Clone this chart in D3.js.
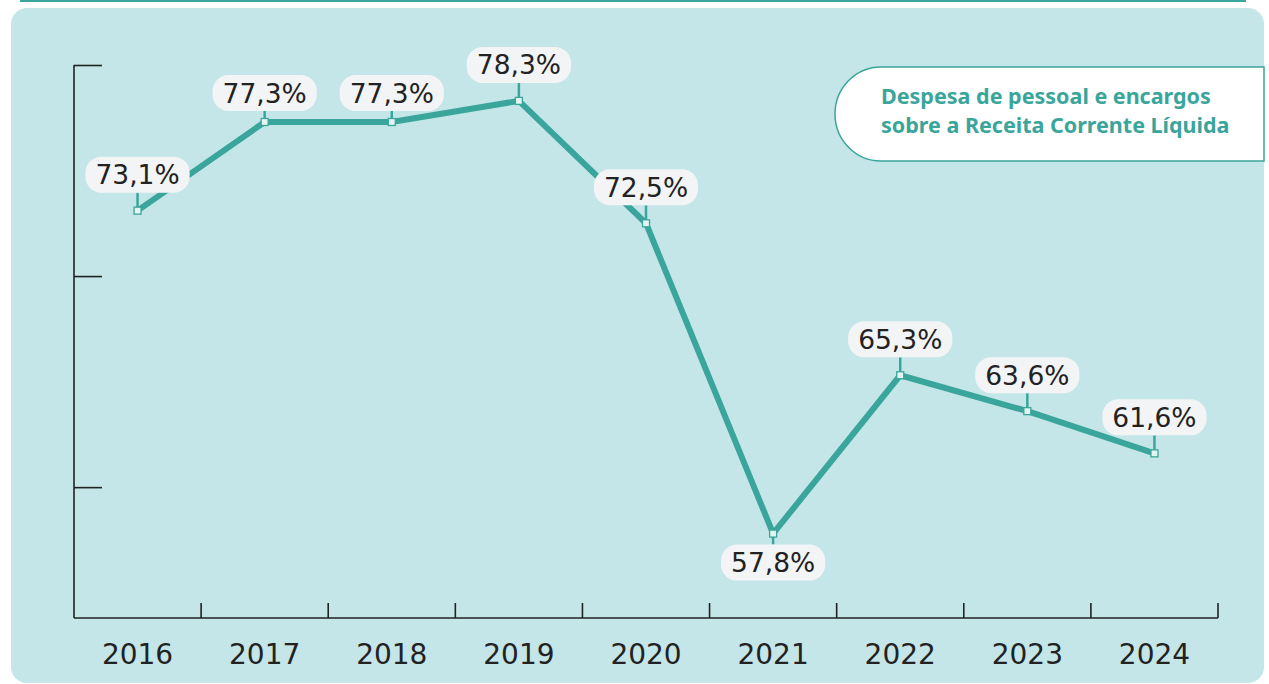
<!DOCTYPE html>
<html><head><meta charset="utf-8">
<script src="https://cdn.jsdelivr.net/npm/d3@7/dist/d3.min.js"></script>
<style>html,body{margin:0;padding:0;background:#fff;}svg{display:block;}</style>
</head><body>
<svg id="c" width="1269" height="684"></svg>
<script>
const years = ["2016","2017","2018","2019","2020","2021","2022","2023","2024"];
const values = [73.1, 77.3, 77.3, 78.3, 72.5, 57.8, 65.3, 63.6, 61.6];
const valueLabels = ["73,1%","77,3%","77,3%","78,3%","72,5%","57,8%","65,3%","63,6%","61,6%"];
const yTicks = [80, 70, 60];
const legendLines = ["Despesa de pessoal e encargos", "sobre a Receita Corrente Líquida"];

const teal = "#3aa69b", dark = "#222", bg = "#c4e6e8", pill = "#f3f4f6";
const font = "'DejaVu Sans', sans-serif";
const svg = d3.select("#c");

// top teal line (edge of previous panel)
svg.append("rect").attr("x",20).attr("y",0).attr("width",1226).attr("height",2).attr("fill",teal);
// panel
svg.append("rect").attr("x",11).attr("y",8).attr("width",1253).attr("height",675).attr("rx",16).attr("fill",bg);

const m = {left:74, right:1218, top:65, bottom:618};
const x = d3.scaleBand().domain(years).range([m.left, m.right]).padding(0);
const y = d3.scaleLinear().domain([53.8, 80]).range([m.bottom, m.top]);

// y axis
const ya = svg.append("g").attr("transform",`translate(${m.left},0)`)
  .call(d3.axisLeft(y).tickValues(yTicks).tickSize(-28).tickFormat(""));
ya.select(".domain").attr("stroke",dark).attr("stroke-width",1.6).attr("d",`M0,${m.top}V${m.bottom}`);
ya.selectAll(".tick line").attr("stroke",dark).attr("stroke-width",1.6);

// x axis
const xa = svg.append("g").attr("transform",`translate(0,${m.bottom})`)
  .call(d3.axisBottom(x).tickSize(0).tickPadding(26));
xa.select(".domain").attr("stroke",dark).attr("stroke-width",1.6).attr("d",`M${m.left},0H${m.right}`);
xa.selectAll(".tick text").attr("font-family",font).attr("font-size",28).attr("fill",dark);
xa.selectAll(".xt").data(years).enter().append("line").attr("class","xt")
  .attr("x1",d=>x(d)+x.bandwidth()).attr("x2",d=>x(d)+x.bandwidth())
  .attr("y1",-15).attr("y2",0).attr("stroke",dark).attr("stroke-width",1.6);

const pts = years.map((yr,i)=>({yr, v:values[i], lab:valueLabels[i], cx:x(yr)+x.bandwidth()/2, cy:y(values[i])}));

// line
svg.append("path").datum(pts)
  .attr("d", d3.line().x(d=>d.cx).y(d=>d.cy))
  .attr("fill","none").attr("stroke",teal).attr("stroke-width",6).attr("stroke-linejoin","miter");

// labels
const below = i => values[i] === d3.min(values);
const tight = i => i === 1 || i === 2;
const pillH = 36;
const lg = svg.append("g");
pts.forEach((p,i)=>{
  const gap = below(i) ? 11 : (tight(i) ? 11 : 18);
  const top = below(i) ? p.cy + gap : p.cy - gap - pillH;
  const cy = top + pillH/2;
  lg.append("line").attr("x1",p.cx).attr("x2",p.cx)
    .attr("y1", below(i) ? p.cy : top + pillH).attr("y2", below(i) ? top : p.cy)
    .attr("stroke",teal).attr("stroke-width",2.5);
  const g = lg.append("g");
  const t = g.append("text").attr("x",p.cx).attr("y",cy).attr("dy","0.36em")
    .attr("text-anchor","middle").attr("font-family",font).attr("font-size",26.5).attr("fill",dark).text(p.lab);
  const w = t.node().getComputedTextLength() + 20;
  g.insert("rect","text").attr("x",p.cx - w/2).attr("y",top).attr("width",w).attr("height",pillH)
    .attr("rx",16).attr("fill",pill);
});
// markers
svg.selectAll(".mk").data(pts).enter().append("rect").attr("class","mk")
  .attr("x",d=>d.cx-3.5).attr("y",d=>d.cy-3.5).attr("width",7).attr("height",7)
  .attr("fill","#e4f4f2").attr("stroke",teal).attr("stroke-width",1.3);

// legend box
const L = {x0:835, x1:1264, y0:67, y1:161, r:46};
svg.append("path")
  .attr("d",`M${L.x1},${L.y0}H${L.x0+L.r}A${L.r},${(L.y1-L.y0)/2} 0 0 0 ${L.x0+L.r},${L.y1}H${L.x1}Z`)
  .attr("fill","#fff").attr("stroke",teal).attr("stroke-width",1.5);
const lt = svg.append("text").attr("font-family","'Noto Sans', sans-serif").attr("font-weight","bold")
  .attr("font-size",20).attr("fill",teal);
lt.selectAll("tspan").data(legendLines).enter().append("tspan")
  .attr("x",881).attr("y",(d,i)=>104+i*29).text(d=>d);
const first = lt.select("tspan").node().getComputedTextLength();
lt.attr("font-size", 20 * 330 / first);
</script>
</body></html>
